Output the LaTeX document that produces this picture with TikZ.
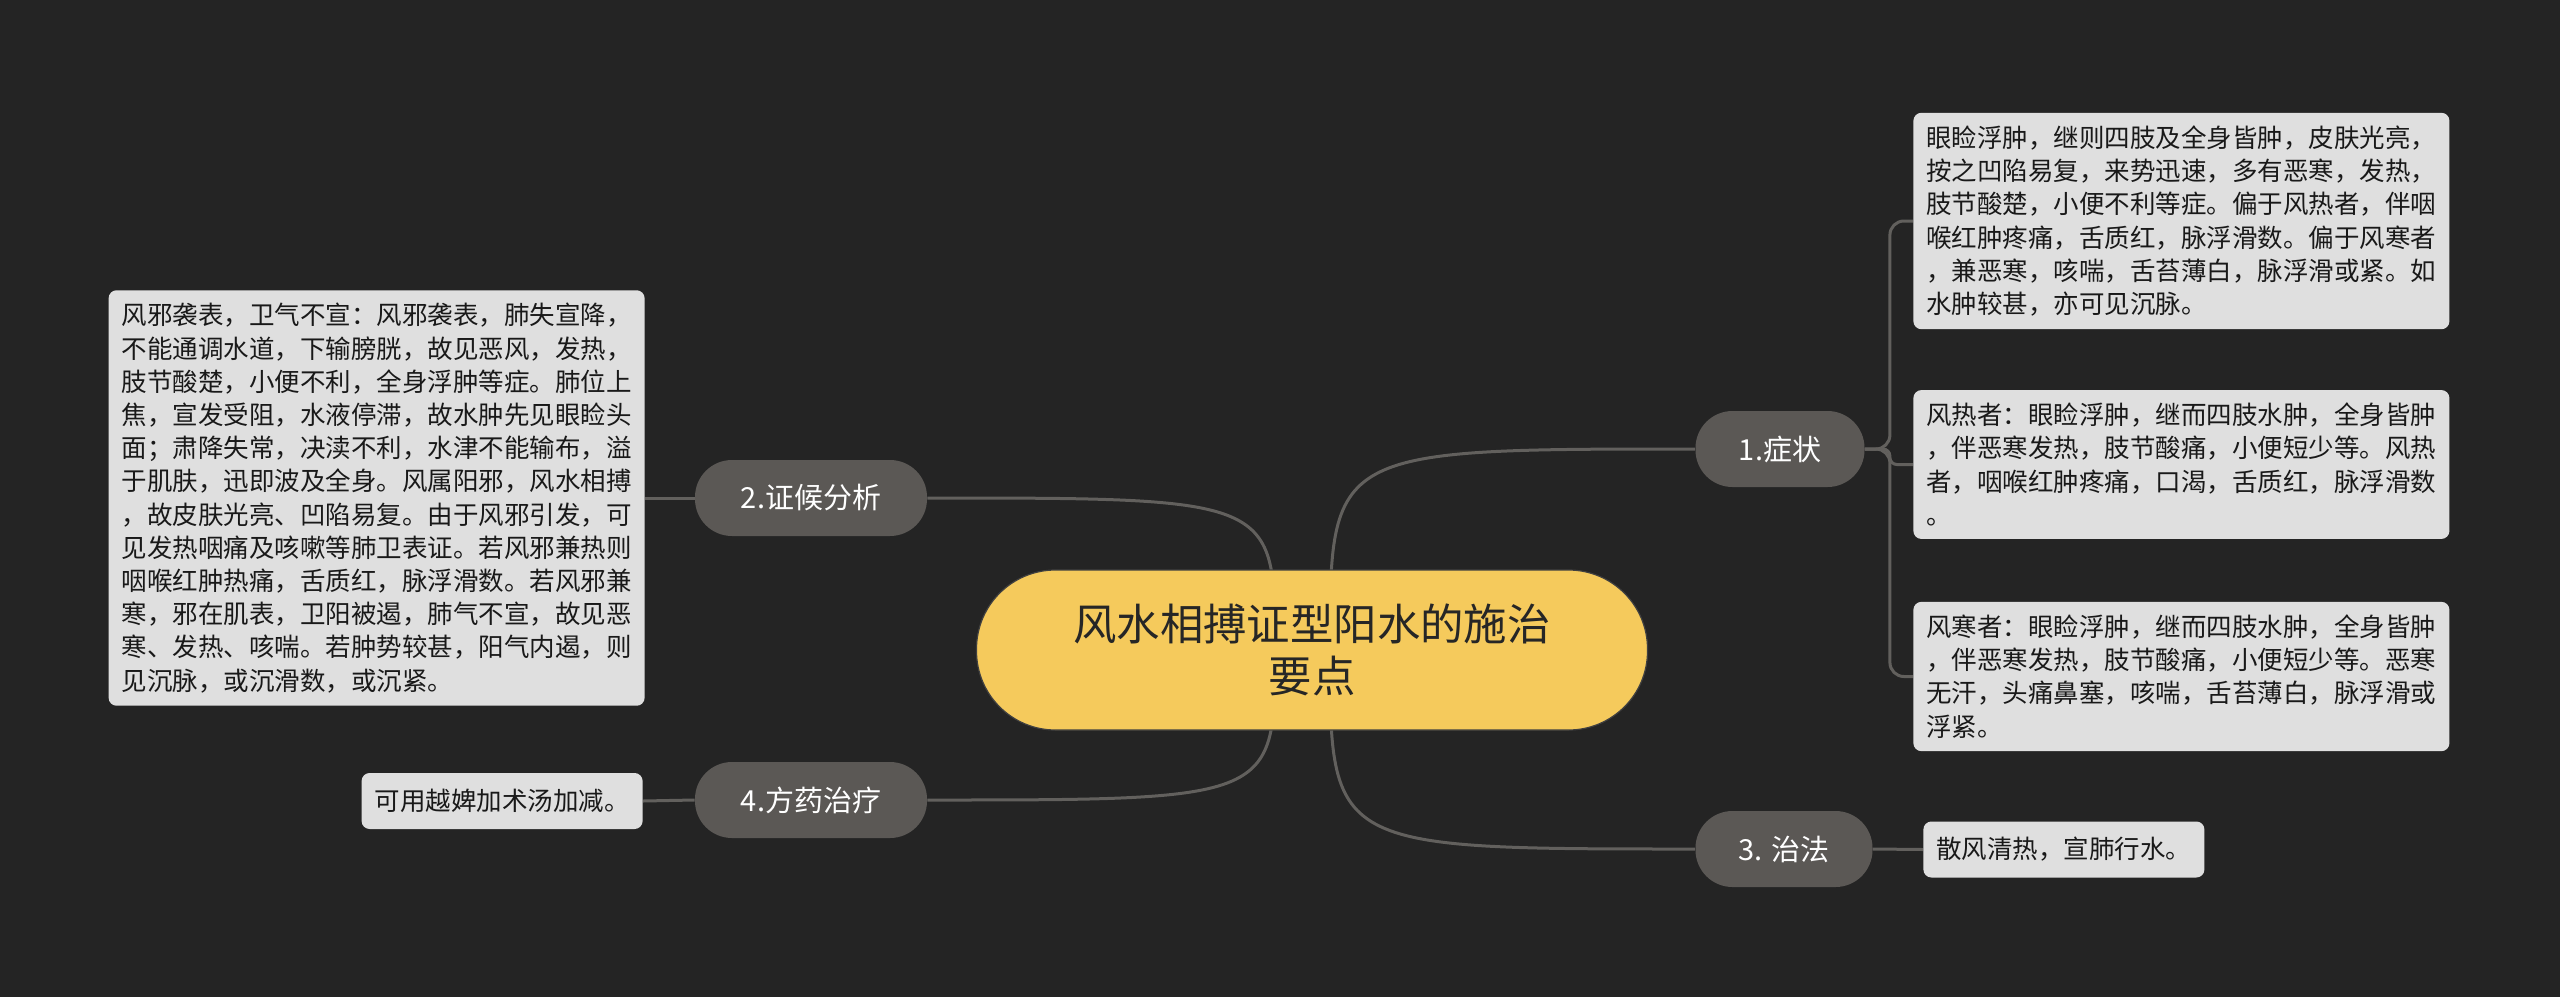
\documentclass[tikz,border=0pt]{standalone}
\usepackage{fontspec}
\setmainfont{Noto Sans CJK SC}
\usetikzlibrary{calc}
\definecolor{bgdark}{HTML}{242424}
\definecolor{rootyellow}{HTML}{F5CA5C}
\definecolor{branchgray}{HTML}{5B5855}
\definecolor{leafgray}{HTML}{DFDFDF}
\definecolor{linkgray}{HTML}{62605D}
\pgfdeclarelayer{back}
\pgfdeclarelayer{links}
\pgfsetlayers{back,links,main}
\tikzset{
  root/.style={draw=black!75, line width=0.6pt, fill=rootyellow, rounded corners=39.5pt, minimum width=335.5pt, minimum height=80pt, align=center, text=black!85, font=\fontsize{21.7}{26}\selectfont},
  branch/.style={fill=branchgray, rounded corners=18.5pt, minimum height=38pt, inner xsep=0pt, text=white, font=\fontsize{14.5}{17}\selectfont},
  leaf/.style={fill=leafgray, rounded corners=4pt, align=left, inner xsep=6.5pt, inner ysep=6.5pt, minimum height=28pt, text=black!90, font=\fontsize{12.75}{16.6}\selectfont},
  link/.style={draw=linkgray, line width=1.5pt}
}
\begin{document}
\begin{tikzpicture}[x=0.5pt, y=-0.5pt]
  \begin{pgfonlayer}{back}
    \fill[bgdark] (0,0) rectangle (2560,997);
  \end{pgfonlayer}
  \node[root] (root) at (1312,650) {风水相搏证型阳水的施治\\要点};
  \node[branch, minimum width=84.5pt] (s1) at (1780,449) {1.症状};
  \node[branch, minimum width=88.5pt] (s3) at (1784,849) {3. 治法};
  \node[branch, minimum width=116pt] (s2) at (811,498) {2.证候分析};
  \node[branch, minimum width=116pt] (s4) at (811,800) {4.方药治疗};
  \node[leaf, anchor=west] (r1) at (1913,221) {眼睑浮肿，继则四肢及全身皆肿，皮肤光亮，\\按之凹陷易复，来势迅速，多有恶寒，发热，\\肢节酸楚，小便不利等症。偏于风热者，伴咽\\喉红肿疼痛，舌质红，脉浮滑数。偏于风寒者\\，兼恶寒，咳喘，舌苔薄白，脉浮滑或紧。如\\水肿较甚，亦可见沉脉。};
  \node[leaf, anchor=west] (r2) at (1913,464.5) {风热者：眼睑浮肿，继而四肢水肿，全身皆肿\\，伴恶寒发热，肢节酸痛，小便短少等。风热\\者，咽喉红肿疼痛，口渴，舌质红，脉浮滑数\\。};
  \node[leaf, anchor=west] (r3) at (1913,676.5) {风寒者：眼睑浮肿，继而四肢水肿，全身皆肿\\，伴恶寒发热，肢节酸痛，小便短少等。恶寒\\无汗，头痛鼻塞，咳喘，舌苔薄白，脉浮滑或\\浮紧。};
  \node[leaf, anchor=west] (l3) at (1923,849.5) {散风清热，宣肺行水。};
  \node[leaf, anchor=east] (l2) at (645,498) {风邪袭表，卫气不宣：风邪袭表，肺失宣降，\\不能通调水道，下输膀胱，故见恶风，发热，\\肢节酸楚，小便不利，全身浮肿等症。肺位上\\焦，宣发受阻，水液停滞，故水肿先见眼睑头\\面；肃降失常，决渎不利，水津不能输布，溢\\于肌肤，迅即波及全身。风属阳邪，风水相搏\\，故皮肤光亮、凹陷易复。由于风邪引发，可\\见发热咽痛及咳嗽等肺卫表证。若风邪兼热则\\咽喉红肿热痛，舌质红，脉浮滑数。若风邪兼\\寒，邪在肌表，卫阳被遏，肺气不宣，故见恶\\寒、发热、咳喘。若肿势较甚，阳气内遏，则\\见沉脉，或沉滑数，或沉紧。};
  \node[leaf, anchor=east] (l4) at (643,801) {可用越婢加术汤加减。};
  \coordinate (rootR) at ([xshift=9pt]root.center);
  \coordinate (rootL) at ([xshift=-18.5pt]root.center);
  \begin{pgfonlayer}{links}
    \draw[link] (rootR) .. controls (rootR |- s1.west) .. (s1.west);
    \draw[link] (rootR) .. controls (rootR |- s3.west) .. (s3.west);
    \draw[link] (rootL) .. controls (rootL |- s2.east) .. (s2.east);
    \draw[link] (rootL) .. controls (rootL |- s4.east) .. (s4.east);
    \draw[link, rounded corners=7pt] (s1.east) -- ++(25,0) |- (r1.west);
    \draw[link, rounded corners=3.5pt] (s1.east) -- ++(25,0) |- (r2.west);
    \draw[link, rounded corners=7pt] (s1.east) -- ++(25,0) |- (r3.west);
    \draw[link] (s3.east) -- (l3.west);
    \draw[link] (s2.west) -- (l2.east);
    \draw[link] (s4.west) -- (l4.east);
  \end{pgfonlayer}
\end{tikzpicture}
\end{document}
